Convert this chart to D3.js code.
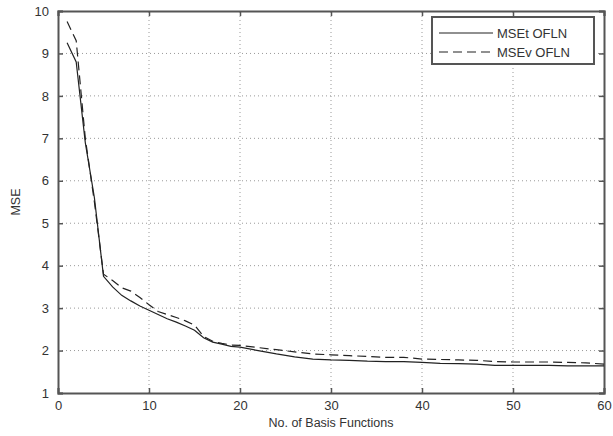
<!DOCTYPE html>
<html>
<head>
<meta charset="utf-8">
<script src="https://cdn.jsdelivr.net/npm/d3@7"></script>
<style>
  body { margin: 0; background: #fff; }
  svg text { font-family: "Liberation Sans", Arial, sans-serif; fill: #333; }
</style>
</head>
<body>
<div id="chart"></div>
<script>
// basis function counts and the two error curves
const basisCounts = [1, 2, 3, 4, 5, 6, 7, 8, 9, 10, 11, 12, 13, 14, 15, 16, 17, 18, 19, 20,
  22, 24, 26, 28, 30, 32, 34, 36, 38, 40, 42, 44, 46, 48, 50, 52, 54, 56, 58, 60];
const mseTrain = [9.25, 8.8, 6.9, 5.6, 3.75, 3.5, 3.3, 3.17, 3.05, 2.95, 2.85, 2.75, 2.67, 2.58, 2.48, 2.3, 2.2, 2.15, 2.1, 2.08,
  2.0, 1.92, 1.85, 1.8, 1.78, 1.77, 1.75, 1.74, 1.74, 1.72, 1.7, 1.69, 1.68, 1.65, 1.65, 1.65, 1.65, 1.64, 1.64, 1.64];
const mseValid = [9.75, 9.3, 7.0, 5.5, 3.8, 3.65, 3.48, 3.4, 3.25, 3.08, 2.92, 2.85, 2.78, 2.7, 2.6, 2.33, 2.22, 2.17, 2.13, 2.12,
  2.07, 2.02, 1.97, 1.92, 1.9, 1.88, 1.86, 1.84, 1.84, 1.8, 1.79, 1.78, 1.77, 1.74, 1.73, 1.73, 1.73, 1.72, 1.71, 1.68];
const xTicks = [0, 10, 20, 30, 40, 50, 60];
const yTicks = [1, 2, 3, 4, 5, 6, 7, 8, 9, 10];
const seriesNames = ["MSEt OFLN", "MSEv OFLN"];

const width = 613, height = 436;
const margin = { top: 11, right: 9, bottom: 43, left: 58 };

const svg = d3.select("#chart").append("svg")
  .attr("width", width)
  .attr("height", height);

const x = d3.scaleLinear().domain([0, 60]).range([margin.left, width - margin.right]);
const y = d3.scaleLinear().domain([1, 10]).range([height - margin.bottom, margin.top]);

const axisColor = "#555";

// grid
svg.append("g")
  .selectAll("line")
  .data(xTicks.slice(1, -1))
  .join("line")
  .attr("x1", d => x(d)).attr("x2", d => x(d))
  .attr("y1", y(1)).attr("y2", y(10))
  .attr("stroke", "#999").attr("stroke-width", 1)
  .attr("stroke-dasharray", "1,3");

svg.append("g")
  .selectAll("line")
  .data(yTicks.slice(1, -1))
  .join("line")
  .attr("x1", x(0)).attr("x2", x(60))
  .attr("y1", d => y(d)).attr("y2", d => y(d))
  .attr("stroke", "#999").attr("stroke-width", 1)
  .attr("stroke-dasharray", "1,3");

// axes (matlab style box with inward ticks)
const gx = svg.append("g")
  .attr("transform", `translate(0,${y(1)})`)
  .call(d3.axisBottom(x).tickValues(xTicks).tickSize(-5).tickPadding(8));
const gxTop = svg.append("g")
  .attr("transform", `translate(0,${y(10)})`)
  .call(d3.axisTop(x).tickValues(xTicks).tickSize(-5).tickFormat(""));
const gy = svg.append("g")
  .attr("transform", `translate(${x(0)},0)`)
  .call(d3.axisLeft(y).tickValues(yTicks).tickSize(-5).tickPadding(9));
const gyRight = svg.append("g")
  .attr("transform", `translate(${x(60)},0)`)
  .call(d3.axisRight(y).tickValues(yTicks).tickSize(-5).tickFormat(""));

[gx, gxTop, gy, gyRight].forEach(g => {
  g.select(".domain").attr("stroke", axisColor).attr("stroke-width", 2);
  g.selectAll(".tick line").attr("stroke", axisColor).attr("stroke-width", 1.5);
  g.selectAll(".tick text").attr("font-size", 13).attr("fill", "#444");
});

// lines
const pts = (vals) => basisCounts.map((b, i) => [b, vals[i]]);
const line = d3.line().x(d => x(d[0])).y(d => y(d[1]));

svg.append("path")
  .attr("d", line(pts(mseTrain)))
  .attr("fill", "none").attr("stroke", "#222").attr("stroke-width", 1.2);

svg.append("path")
  .attr("d", line(pts(mseValid)))
  .attr("fill", "none").attr("stroke", "#222").attr("stroke-width", 1.2)
  .attr("stroke-dasharray", "9,5");

// axis labels
svg.append("text")
  .attr("x", x(30)).attr("y", height - 9)
  .attr("text-anchor", "middle").attr("font-size", 12.5)
  .text("No. of Basis Functions");

svg.append("text")
  .attr("transform", `translate(20,${(y(1) + y(10)) / 2}) rotate(-90)`)
  .attr("text-anchor", "middle").attr("font-size", 12.5)
  .text("MSE");

// legend
const lg = svg.append("g").attr("transform", "translate(432,17)");
lg.append("rect")
  .attr("width", 162).attr("height", 47)
  .attr("fill", "#fff").attr("stroke", axisColor).attr("stroke-width", 2);
seriesNames.forEach((name, i) => {
  const ly = 16 + i * 19;
  lg.append("line")
    .attr("x1", 7).attr("x2", 61).attr("y1", ly).attr("y2", ly)
    .attr("stroke", "#222").attr("stroke-width", 1.2)
    .attr("stroke-dasharray", i === 1 ? "9,5" : null);
  lg.append("text")
    .attr("x", 65).attr("y", ly).attr("dy", "0.35em")
    .attr("font-size", 13)
    .text(name);
});
</script>
</body>
</html>
